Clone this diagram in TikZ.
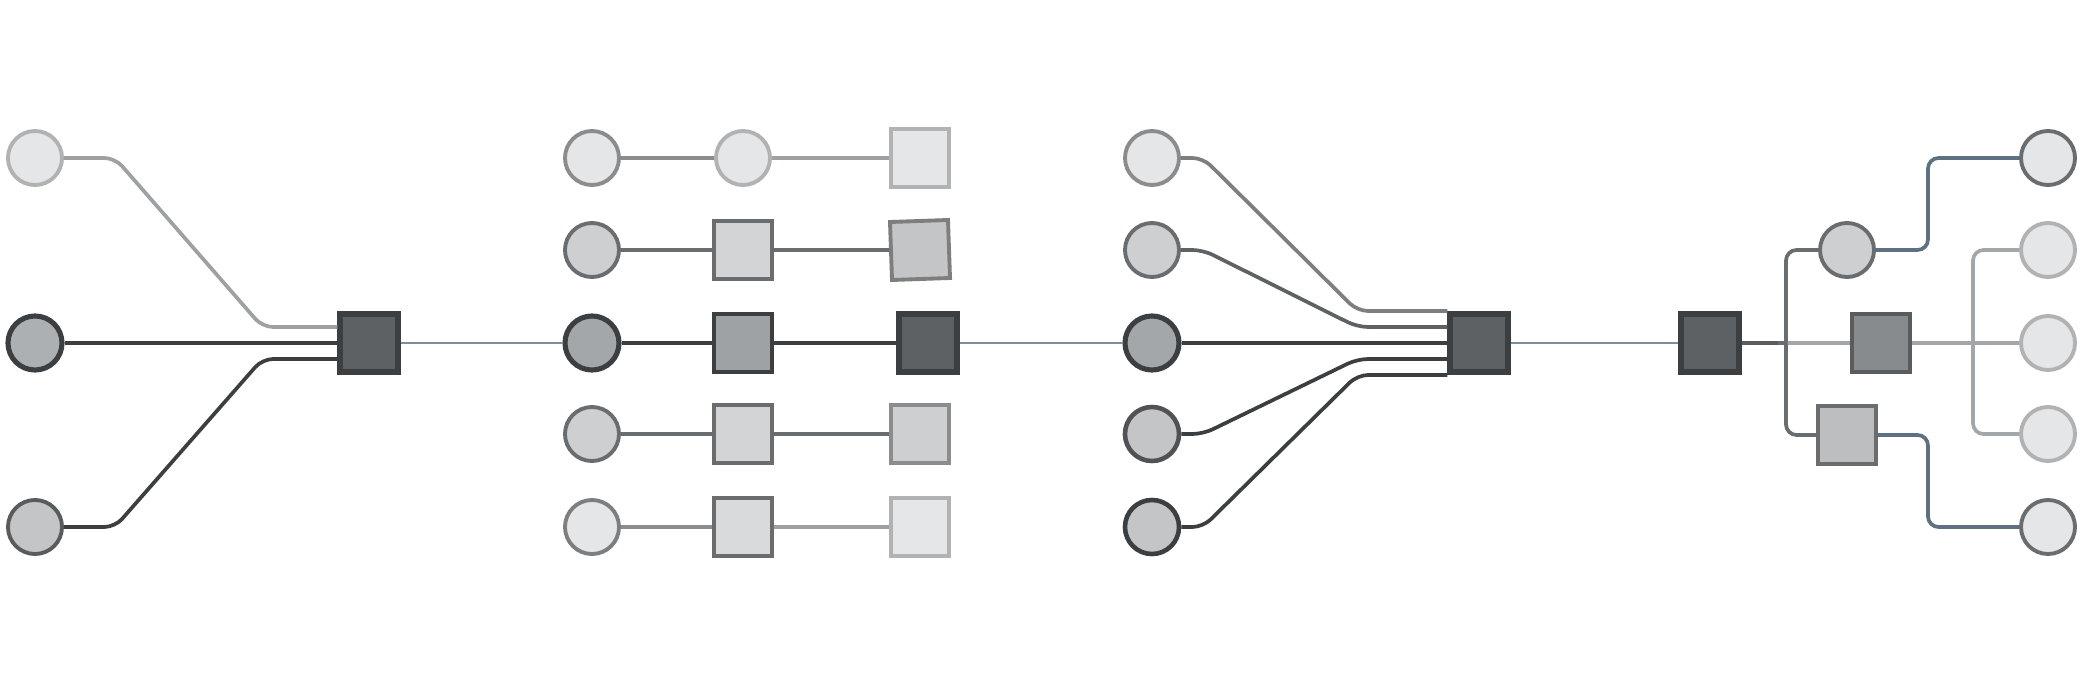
\documentclass[tikz,border=0pt]{standalone}
\usepackage{tikz}
\usetikzlibrary{positioning,calc}
\usepackage{xcolor}
\definecolor{pale}{HTML}{E4E6E8}
\definecolor{silver}{HTML}{CDCFD1}
\definecolor{ash}{HTML}{A4A7AA}
\definecolor{slate}{HTML}{878B8E}
\definecolor{coal}{HTML}{5D6164}
\definecolor{ink}{HTML}{3C3F42}
\definecolor{iron}{HTML}{6A6D70}
\definecolor{smoke}{HTML}{8A8C8E}
\definecolor{fog}{HTML}{B0B2B4}
\definecolor{wire}{HTML}{7A8EA0}
\definecolor{steel}{HTML}{5E7182}

\begin{document}
\begin{tikzpicture}[x=0.01cm,y=-0.01cm]
\tikzstyle{C}=[circle,draw,minimum size=5.4mm,inner sep=0pt,line width=1.1pt]
\tikzstyle{S}=[draw,minimum size=5.8mm,inner sep=0pt,line width=1.1pt]
\tikzstyle{W}=[line width=1.05pt,rounded corners=3pt]
\fill[white](0,0) rectangle (2084,685);
\useasboundingbox (0,0) rectangle (2084,685);

% three into one
\node[C,draw=fog,fill=pale](a1) at (35,158){};
\node[C,draw=ink,fill=ash!90,line width=1.45pt](a2) at (35,343){};
\node[C,draw=ink!85,fill=silver!95!black](a3) at (35,527){};
\node[S,draw=ink,fill=coal,line width=1.45pt](s1) at (369,343){};
\draw[W,fog!90!black](a1)--(115,158)--([xshift=-.75cm,yshift=.16cm]s1.west)--([yshift=.16cm]s1.west);
\draw[W,ink](a2)--(s1);
\draw[W,ink](a3)--(115,527)--([xshift=-.75cm,yshift=-.16cm]s1.west)--([yshift=-.16cm]s1.west);

% parallel rows
\node[C,draw=smoke,fill=pale](b1) at (592,158){};
\node[C,draw=fog,fill=pale](c1) at (743,158){};
\node[S,draw=fog,fill=pale](e1) at (920,158){};
\node[C,draw=iron,fill=silver](b2) at (592,250){};
\node[S,draw=iron,fill=silver!90!white](c2) at (743,250){};
\node[S,draw=smoke!90!black,fill=silver!95!black,rotate=2](e2) at (920,250){};
\node[C,draw=ink,fill=ash,line width=1.45pt](b3) at (592,343){};
\node[S,draw=ink,fill=slate!80!white,line width=1.3pt](c3) at (743,343){};
\node[S,draw=ink,fill=coal,line width=1.45pt](e3) at (928,343){};
\node[C,draw=iron,fill=silver](b4) at (592,434){};
\node[S,draw=iron,fill=silver!90!white](c4) at (743,434){};
\node[S,draw=smoke,fill=silver](e4) at (920,434){};
\node[C,draw=smoke!90!black,fill=pale](b5) at (592,527){};
\node[S,draw=iron,fill=pale!95!black](c5) at (743,527){};
\node[S,draw=fog,fill=pale](e5) at (920,527){};
\draw[W,smoke](b1)--(c1);
\draw[W,fog!90!black](c1)--(e1);
\draw[W,iron](b2)--(c2)--(e2);
\draw[W,ink](b3)--(c3)--(e3);
\draw[W,iron](b4)--(c4)--(e4);
\draw[W,smoke](b5)--(c5);
\draw[W,fog!90!black](c5)--(e5);

% five into one
\node[C,draw=smoke,fill=pale](f1) at (1152,158){};
\node[C,draw=iron,fill=silver](f2) at (1152,250){};
\node[C,draw=ink,fill=ash,line width=1.45pt](f3) at (1152,343){};
\node[C,draw=ink!90,fill=silver!95!black,line width=1.3pt](f4) at (1152,434){};
\node[C,draw=ink,fill=silver!95!black,line width=1.3pt](f5) at (1152,527){};
\node[S,draw=ink,fill=coal,line width=1.45pt](s3) at (1479,343){};
\draw[W,smoke!90!black](f1)--(1203,158)--([xshift=-.9cm,yshift=.32cm]s3.west)--([yshift=.32cm]s3.west);
\draw[W,iron!90!black](f2)--(1203,250)--([xshift=-.9cm,yshift=.16cm]s3.west)--([yshift=.16cm]s3.west);
\draw[W,ink](f3)--(s3);
\draw[W,ink](f4)--(1203,434)--([xshift=-.9cm,yshift=-.16cm]s3.west)--([yshift=-.16cm]s3.west);
\draw[W,ink](f5)--(1203,527)--([xshift=-.9cm,yshift=-.32cm]s3.west)--([yshift=-.32cm]s3.west);

% one out to many
\node[S,draw=ink,fill=coal,line width=1.45pt](s4) at (1710,343){};
\node[C,draw=iron,fill=silver](g1) at (1847,250){};
\node[S,draw=ink!85,fill=slate,line width=1.3pt](s5) at (1881,343){};
\node[S,draw=iron,fill=silver!92!black](s6) at (1847,435){};
\node[C,draw=iron,fill=pale](h1) at (2048,158){};
\node[C,draw=fog,fill=pale](h2) at (2048,250){};
\node[C,draw=fog,fill=pale](h3) at (2048,343){};
\node[C,draw=fog,fill=pale](h4) at (2048,434){};
\node[C,draw=iron,fill=pale](h5) at (2048,527){};
\coordinate(j1) at (1778,343);
\coordinate(j2) at (1964,343);
\draw[W,iron!85!black](s4)--(j1);
\draw[W,ash](j1)--(s5);
\draw[W,iron](j1)..controls(1786,343)..(1786,331)--(1786,250)--(g1);
\draw[W,iron](j1)..controls(1786,343)..(1786,355)--(1786,435)--(s6);
\draw[W,steel](g1)--(1928,250)--(1928,158)--(h1);
\draw[W,steel](s6)--(1928,435)--(1928,527)--(h5);
\draw[W,ash](s5)--(j2)--(h3);
\draw[W,ash](j2)..controls(1973,343)..(1973,331)--(1973,250)--(h2);
\draw[W,ash](j2)..controls(1973,343)..(1973,355)--(1973,434)--(h4);

% links
\draw[wire,line width=0.8pt](s1)--(b3);
\draw[wire,line width=0.8pt](e3)--(f3);
\draw[wire,line width=0.8pt](s3)--(s4);
\end{tikzpicture}
\end{document}
